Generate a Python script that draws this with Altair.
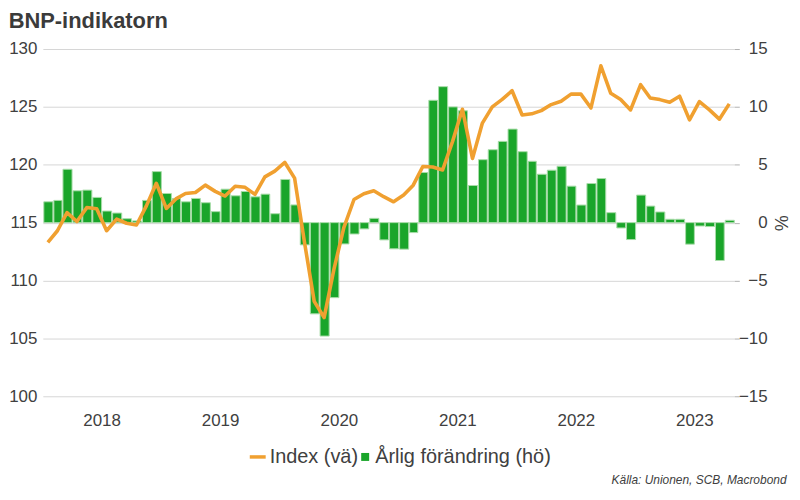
import altair as alt
import pandas as pd

# ---- data -------------------------------------------------------------
months = pd.date_range("2018-01-01", periods=70, freq="MS").strftime("%Y-%m-%d").tolist()

index_va = [
    113.3, 114.3, 115.86, 115.1, 116.3, 116.2, 114.3, 115.3, 114.95, 114.8, 116.45, 118.4,   # 2018
    116.23, 117.05, 117.52, 117.6, 118.24, 117.7, 117.3, 118.15, 118.05, 117.44, 118.95, 119.45,  # 2019
    120.2, 118.85, 113.4, 108.2, 106.8, 111.0, 114.6, 117.0, 117.5, 117.75, 117.24, 116.8,  # 2020
    117.38, 118.24, 119.85, 119.8, 119.55, 122.0, 124.8, 120.55, 123.6, 125.0, 125.65, 126.4,  # 2021
    124.3, 124.4, 124.68, 125.2, 125.49, 126.1, 126.1, 124.91, 128.55, 126.17, 125.63, 124.74,  # 2022
    126.92, 125.77, 125.63, 125.4, 125.92, 123.88, 125.46, 124.74, 123.94, 125.26,  # 2023
]

arlig_ho = [
    1.8, 1.92, 4.61, 2.75, 2.81, 2.18, 1.0, 0.83, 0.34, 0.15, 1.92, 4.41,
    2.52, 2.09, 1.8, 2.09, 1.72, 0.95, 2.89, 2.32, 2.69, 2.23, 2.46, 0.77,
    3.73, 1.53, -1.92, -7.88, -9.8, -6.48, -1.84, -0.98, -0.54, 0.37, -1.49, -2.26,
    -2.29, -0.86, 4.33, 10.57, 11.75, 10.0, 9.66, 3.21, 5.44, 6.3, 7.02, 8.08,
    6.13, 5.3, 4.18, 4.53, 4.87, 3.15, 1.52, 3.38, 3.81, 0.86, -0.46, -1.46,
    2.38, 1.43, 0.92, 0.29, 0.29, -1.86, -0.29, -0.34, -3.27, 0.2,
]

series_names = ["Index (vä)", "Årlig förändring (hö)"]
year_labels = [2018, 2019, 2020, 2021, 2022, 2023]
left_ticks = [100, 105, 110, 115, 120, 125, 130]
right_ticks = [-15, -10, -5, 0, 5, 10, 15]

df = pd.DataFrame({"date": months, "index": index_va, "change": arlig_ho})

# ---- style ------------------------------------------------------------
FONT = "Liberation Sans"
TXT = "#404040"
ORANGE = "#f0a030"
GREEN = "#1aa52a"

x_domain = [alt.DateTime(year=2018, month=1, date=1, utc=True),
            alt.DateTime(year=2023, month=11, date=1, utc=True)]

x_axis = alt.Axis(
    values=[alt.DateTime(year=y, month=7, date=1, utc=True) for y in year_labels],
    labelExpr="utcFormat(datum.value, '%Y')",
    ticks=False, domain=False, grid=False,
    labelPadding=16, labelFontSize=17, labelColor=TXT, labelFont=FONT,
    title="Källa: Unionen, SCB, Macrobond",
    titleFont=FONT, titleFontSize=12, titleFontStyle="italic", titleFontWeight="normal",
    titleColor=TXT, titleAlign="right", titleAnchor="end", titleBaseline="alphabetic",
    titleX=747, titleY=88,
)

legend_common = dict(title=None, orient="none", direction="horizontal",
                     labelFontSize=20, labelFont=FONT, labelColor=TXT,
                     labelLimit=0, padding=0)

base = alt.Chart(df)

bars = base.transform_calculate(series="'Årlig förändring (hö)'").mark_bar(
    stroke="#a8dca8", strokeWidth=1
).encode(
    x=alt.X("utcyearmonth(date):T", scale=alt.Scale(domain=x_domain), axis=x_axis),
    y=alt.Y("change:Q", scale=alt.Scale(domain=[-15, 15], nice=False),
            axis=alt.Axis(orient="right", values=right_ticks, grid=False, domain=False,
                          ticks=True, tickSize=5, tickColor="#b0b0b0",
                          labelAlign="right", labelPadding=28, labelFontSize=17,
                          labelColor=TXT, labelFont=FONT,
                          title="%", titleAngle=90, titleX=45, titleY=174.5,
                          titleFontSize=18, titleFontWeight="normal", titleColor=TXT,
                          titleFont=FONT, titleAlign="center", titleBaseline="middle")),
    fill=alt.Fill("series:N", scale=alt.Scale(domain=[series_names[1]], range=[GREEN]),
                  legend=alt.Legend(legendX=314, legendY=400, symbolType="square",
                                    symbolSize=64, symbolStrokeWidth=0, labelOffset=0,
                                    **legend_common)),
)

line = base.transform_calculate(series="'Index (vä)'").mark_line(
    strokeWidth=3.6, strokeJoin="round"
).encode(
    x=alt.X("utcyearmonth(date):T", scale=alt.Scale(domain=x_domain), axis=x_axis,
            bandPosition=0.5),
    y=alt.Y("index:Q", scale=alt.Scale(domain=[100, 130], nice=False),
            axis=alt.Axis(orient="left", values=left_ticks, grid=True, gridColor="#d6d6d6",
                          domain=False, ticks=False, labelPadding=6, labelFontSize=17,
                          labelColor=TXT, labelFont=FONT, title=None)),
    stroke=alt.Stroke("series:N", scale=alt.Scale(domain=[series_names[0]], range=[ORANGE]),
                      legend=alt.Legend(legendX=206, legendY=400, symbolType="stroke",
                                        symbolSize=256, symbolStrokeWidth=3.5, labelOffset=2,
                                        **legend_common)),
)

chart = alt.layer(bars, line).resolve_scale(y="independent").properties(
    width=695, height=349,
    background="white",
    autosize=alt.AutoSizeParams(type="none"),
    padding={"left": 35, "top": 40, "right": 58, "bottom": 95},
    title=alt.TitleParams("BNP-indikatorn", anchor="start", frame="bounds",
                          fontSize=22, fontWeight="bold", color="#3b3b3b", font=FONT,
                          offset=10, dy=3),
).configure_view(stroke=None)

chart.save("out.html", embed_options={"renderer": "svg", "actions": False})
